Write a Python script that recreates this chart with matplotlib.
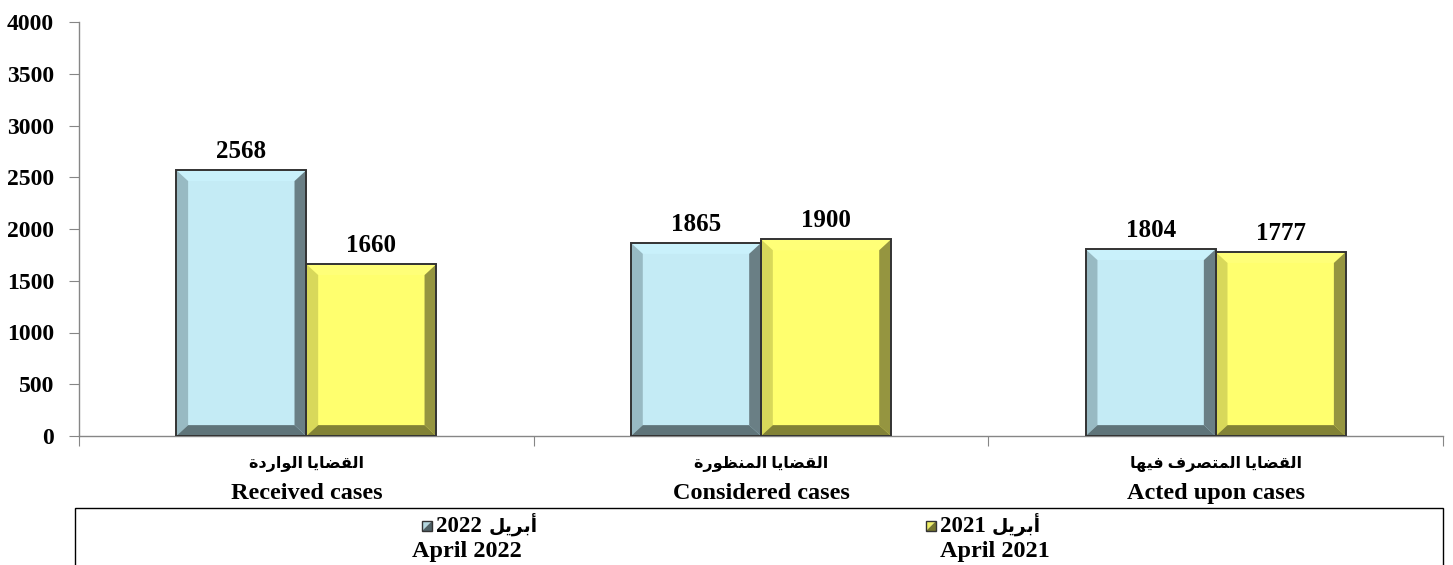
"""
Court cases chart: April 2022 vs April 2021.
"""

import matplotlib

matplotlib.use("Agg")

import matplotlib.pyplot as plt
from matplotlib.patches import Polygon, Rectangle


CATEGORIES_AR: list[str] = [
    "القضايا الواردة",
    "القضايا المنظورة",
    "القضايا المتصرف فيها"
]

CATEGORIES_EN: list[str] = [
    "Received cases",
    "Considered cases",
    "Acted upon cases"
]

SERIES_AR: list[str] = [
    "أبريل",
    "أبريل"
]

SERIES_YEARS: list[str] = [
    "2022",
    "2021"
]

SERIES_EN: list[str] = [
    "April 2022",
    "April 2021"
]

VALUES_2022: list[int] = [2568, 1865, 1804]

VALUES_2021: list[int] = [1660, 1900, 1777]

Y_TICKS: list[int] = [0, 500, 1000, 1500, 2000, 2500, 3000, 3500, 4000]

FONT = ["Liberation Serif", "DejaVu Sans"]

W = 1453
H = 565

# face, top, left, right, bottom
BLUE = ["#c4ebf5", "#c9f1fb", "#98bac3", "#6a7f85", "#5f7479"]
YELLOW = ["#ffff6e", "#ffff78", "#d8d85a", "#959540", "#828236"]

# isolated, final, initial, medial
FORMS = {
    "ا": ("\ufe8d", "\ufe8e", None, None),
    "أ": ("\ufe83", "\ufe84", None, None),
    "ب": ("\ufe8f", "\ufe90", "\ufe91", "\ufe92"),
    "ة": ("\ufe93", "\ufe94", None, None),
    "ت": ("\ufe95", "\ufe96", "\ufe97", "\ufe98"),
    "د": ("\ufea9", "\ufeaa", None, None),
    "ر": ("\ufead", "\ufeae", None, None),
    "ص": ("\ufeb9", "\ufeba", "\ufebb", "\ufebc"),
    "ض": ("\ufebd", "\ufebe", "\ufebf", "\ufec0"),
    "ظ": ("\ufec5", "\ufec6", "\ufec7", "\ufec8"),
    "ف": ("\ufed1", "\ufed2", "\ufed3", "\ufed4"),
    "ق": ("\ufed5", "\ufed6", "\ufed7", "\ufed8"),
    "ل": ("\ufedd", "\ufede", "\ufedf", "\ufee0"),
    "م": ("\ufee1", "\ufee2", "\ufee3", "\ufee4"),
    "ن": ("\ufee5", "\ufee6", "\ufee7", "\ufee8"),
    "ه": ("\ufee9", "\ufeea", "\ufeeb", "\ufeec"),
    "و": ("\ufeed", "\ufeee", None, None),
    "ي": ("\ufef1", "\ufef2", "\ufef3", "\ufef4"),
}


def shape_word(word: str) -> str:
    """
    Join Arabic letters and return them in visual order.
    """
    if not any(ch in FORMS for ch in word):
        return word
    out = []
    for i, ch in enumerate(word):
        if ch not in FORMS:
            out.append(ch)
            continue
        prev_joins = i > 0 and word[i - 1] in FORMS and FORMS[word[i - 1]][2] is not None
        next_joins = (FORMS[ch][2] is not None and i + 1 < len(word)
                      and word[i + 1] in FORMS)
        if prev_joins and next_joins:
            out.append(FORMS[ch][3])
        elif prev_joins:
            out.append(FORMS[ch][1])
        elif next_joins:
            out.append(FORMS[ch][2])
        else:
            out.append(FORMS[ch][0])
    return "".join(reversed(out))


def rtl(text: str) -> str:
    """
    Very small right-to-left layout for one line.
    """
    return " ".join(shape_word(w) for w in reversed(text.split(" ")))


def draw_bar(ax, x0: float, width: float, height: float, colors: list[str]) -> None:
    """
    Draw one bar with a bevelled look.
    """
    ax.bar(x0, height, width=width, align="edge", color=colors[0],
           edgecolor="none", zorder=2)
    x1 = x0 + width
    bx = 0.026
    by = 105
    top = [(x0, height), (x1, height), (x1 - bx, height - by), (x0 + bx, height - by)]
    left = [(x0, 0), (x0, height), (x0 + bx, height - by), (x0 + bx, by)]
    right = [(x1, 0), (x1, height), (x1 - bx, height - by), (x1 - bx, by)]
    bottom = [(x0, 0), (x1, 0), (x1 - bx, by), (x0 + bx, by)]
    for pts, col in zip([top, left, right, bottom], colors[1:]):
        ax.add_patch(Polygon(pts, closed=True, facecolor=col,
                             edgecolor="none", zorder=3))
    ax.add_patch(Rectangle((x0, 0), width, height, facecolor="none",
                           edgecolor="#333333", linewidth=1.4, zorder=4))


def create_chart() -> None:
    """
    Create the grouped bar chart.
    """
    fig = plt.figure(figsize=(W / 100, H / 100), dpi=100)
    ax = fig.add_axes([79 / W, 129 / H, 1364 / W, 414 / H])

    width = 0.286
    for i, (v22, v21) in enumerate(zip(VALUES_2022, VALUES_2021)):
        draw_bar(ax, i - width, width, v22, BLUE)
        draw_bar(ax, i, width, v21, YELLOW)
        ax.text(i - width / 2, v22 + 70, str(v22), ha="center", va="bottom",
                fontsize=18, fontweight="bold", family=FONT)
        ax.text(i + width / 2, v21 + 70, str(v21), ha="center", va="bottom",
                fontsize=18, fontweight="bold", family=FONT)

    ax.set_xlim(-0.5, 2.5)
    ax.set_ylim(0, 4000)
    ax.set_yticks(Y_TICKS)
    ax.set_yticklabels([str(t) for t in Y_TICKS], fontsize=17,
                       fontweight="bold", family=FONT)
    ax.set_xticks([-0.5, 0.5, 1.5, 2.5])
    ax.set_xticklabels([])
    ax.tick_params(axis="both", direction="out", length=7, color="#868686")
    ax.tick_params(axis="y", pad=11)

    for side in ["top", "right"]:
        ax.spines[side].set_visible(False)
    for side in ["left", "bottom"]:
        ax.spines[side].set_color("#868686")
        ax.spines[side].set_linewidth(1.0)

    trans = ax.get_xaxis_transform()
    for i, (ar, en) in enumerate(zip(CATEGORIES_AR, CATEGORIES_EN)):
        ax.text(i, -0.068, rtl(ar), transform=trans, ha="center", va="center",
                fontsize=11.5, fontweight="bold", family=FONT)
        ax.text(i, -0.14, en, transform=trans, ha="center", va="center",
                fontsize=17.5, fontweight="bold", family=FONT)

    # legend box
    fig.patches.append(Rectangle((75 / W, -0.02), 1368 / W, 57 / H + 0.02,
                                 transform=fig.transFigure, facecolor="white",
                                 edgecolor="black", linewidth=1.0))
    marker_x = [422, 926]
    year_x = [436, 940]
    arabic_x = [489, 992]
    english_c = [467, 995]
    marker_colors = [("#b4d7df", "#4f6166"), ("#efef66", "#75752c")]
    for k in range(2):
        line1 = 1 - 526 / H
        fig.text(year_x[k] / W, line1, SERIES_YEARS[k], ha="left",
                 va="center", fontsize=16.5, fontweight="bold", family=FONT)
        fig.text(arabic_x[k] / W, line1 + 2 / H, rtl(SERIES_AR[k]), ha="left",
                 va="center", fontsize=13.5, fontweight="bold", family=FONT)
        fig.text(english_c[k] / W, 1 - 551 / H, SERIES_EN[k], ha="center",
                 va="center", fontsize=17.5, fontweight="bold", family=FONT)
        light, dark = marker_colors[k]
        mx = marker_x[k] / W
        my = 1 - 531 / H
        sw = 10 / W
        sh = 10 / H
        fig.patches.append(Polygon([(mx, my), (mx, my + sh), (mx + sw, my + sh)],
                                   closed=True, transform=fig.transFigure,
                                   facecolor=light, edgecolor="none"))
        fig.patches.append(Polygon([(mx, my), (mx + sw, my), (mx + sw, my + sh)],
                                   closed=True, transform=fig.transFigure,
                                   facecolor=dark, edgecolor="none"))
        fig.patches.append(Rectangle((mx, my), sw, sh, transform=fig.transFigure,
                                     facecolor="none", edgecolor="#333333",
                                     linewidth=1.0))

    fig.savefig("out.png", dpi=100)


def main() -> None:
    """
    Build and save the chart.
    """
    create_chart()


if __name__ == "__main__":
    main()
